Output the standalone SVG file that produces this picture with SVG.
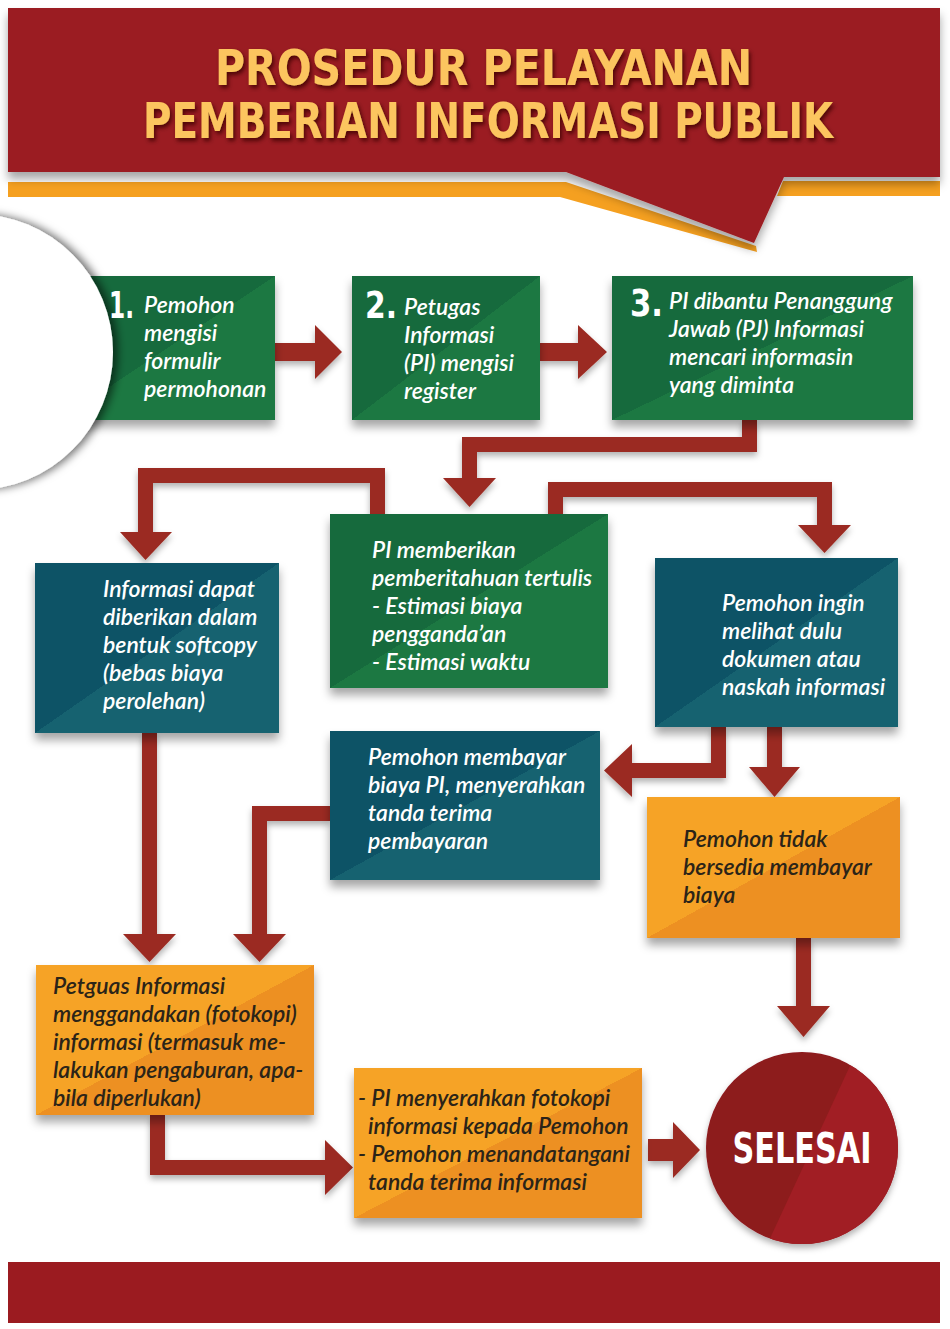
<svg xmlns="http://www.w3.org/2000/svg" width="950" height="1329" viewBox="0 0 950 1329">
<defs>
  <style>
    .body { font-family: Lato, "Open Sans", "Liberation Sans", sans-serif; font-style: italic; font-weight: 600; font-size: 23px; }
    .w { fill: #ffffff; }
    .d { fill: #2b2418; }
    .num { font-family: "DejaVu Sans Condensed", "Liberation Sans", sans-serif; font-weight: bold; font-size: 38px; fill: #ffffff; }
    .title { font-family: "DejaVu Sans Condensed", "Liberation Sans", sans-serif; font-weight: bold; font-size: 50px; fill: #fcc55e; }
    .arrow { fill: #9b2b22; }
  </style>
  <linearGradient id="gGreen" x1="0" y1="0" x2="1" y2="1">
    <stop offset="0.5" stop-color="#196a3c"/>
    <stop offset="0.5" stop-color="#1d7843"/>
  </linearGradient>
  <linearGradient id="gTeal" x1="0" y1="0" x2="1" y2="1">
    <stop offset="0.5" stop-color="#0d5266"/>
    <stop offset="0.5" stop-color="#13626f"/>
  </linearGradient>
  <linearGradient id="gOrange" x1="0" y1="0" x2="1" y2="1">
    <stop offset="0.5" stop-color="#f6a325"/>
    <stop offset="0.5" stop-color="#ed9024"/>
  </linearGradient>
  <filter id="sh" x="-20%" y="-20%" width="140%" height="150%">
    <feDropShadow dx="0" dy="7" stdDeviation="5" flood-color="#000" flood-opacity="0.35"/>
  </filter>
  <filter id="shA" x="-20%" y="-20%" width="140%" height="150%">
    <feDropShadow dx="0" dy="4" stdDeviation="3" flood-color="#000" flood-opacity="0.3"/>
  </filter>
  <filter id="shC" x="-30%" y="-30%" width="160%" height="160%">
    <feDropShadow dx="5" dy="0" stdDeviation="4" flood-color="#000" flood-opacity="0.55"/>
  </filter>
  <filter id="shT" x="-5%" y="-20%" width="110%" height="150%">
    <feDropShadow dx="2" dy="3" stdDeviation="2" flood-color="#3a0606" flood-opacity="0.8"/>
  </filter>
  <clipPath id="cEnd"><circle cx="802" cy="1148" r="96"/></clipPath>
</defs>

<rect x="0" y="0" width="950" height="1329" fill="#ffffff"/>

<g id="header">
  <path d="M8,182 H566 L756,246 L757,252 L560,197 H8 Z" fill="#f5a020"/>
  <path d="M783,181 H940 V196 H777 Z" fill="#f5a020"/>
  <path d="M8,8 H940 V177 H784 L754,243 L566,172 H8 Z" fill="#9b1b20" filter="url(#sh)"/>
  <g filter="url(#shT)">
    <text class="title" x="215" y="85" textLength="537" lengthAdjust="spacingAndGlyphs">PROSEDUR PELAYANAN</text>
    <text class="title" x="143" y="138" textLength="690" lengthAdjust="spacingAndGlyphs">PEMBERIAN INFORMASI PUBLIK</text>
  </g>
</g>

<g id="connectors">
  <g class="arrow" filter="url(#shA)">
    <polygon points="275,343 315,343 315,325 342,352 315,379 315,361 275,361"/>
    <polygon points="540,343 578,343 578,325 607,352 578,379 578,361 540,361"/>
    <polygon points="742,420 757,420 757,452 477,452 477,478 496,478 469.5,507 443,478 462,478 462,437 742,437"/>
    <polygon points="385,514 385,468 138,468 138,532 120,532 145.5,560 172,532 153,532 153,483 370,483 370,514"/>
    <polygon points="548,514 548,482 832,482 832,525 851,525 824.5,553 798,525 817,525 817,497 563,497 563,514"/>
    <polygon points="711,727 726,727 726,778 632,778 632,797 604,770.5 632,744 632,763 711,763"/>
    <polygon points="767,727 782,727 782,767 800,767 774.5,797 749,767 767,767"/>
    <polygon points="796,938 811,938 811,1006 830,1006 803.5,1037 777,1006 796,1006"/>
    <polygon points="142,733 157,733 157,934 176,934 149.5,962 123,934 142,934"/>
    <polygon points="330,806 330,821 267,821 267,934 286,934 259.5,962 233,934 252,934 252,806"/>
    <polygon points="150,1115 165,1115 165,1160 325,1160 325,1140 353,1167.5 325,1195 325,1175 150,1175"/>
    <polygon points="648,1139 673,1139 673,1122 700,1150 673,1178 673,1161 648,1161"/>
  </g>
</g>

<g id="step1">
  <rect x="60" y="276" width="215" height="144" fill="url(#gGreen)" filter="url(#sh)"/>
</g>
<g id="start-arc">
  <circle cx="-25" cy="352" r="138" fill="#ffffff" filter="url(#shC)"/>
</g>
<g id="step1-text">
  <text class="num" x="109" y="318" textLength="25" lengthAdjust="spacingAndGlyphs">1.</text>
  <text class="body w" x="144" y="313">Pemohon</text>
  <text class="body w" x="144" y="341">mengisi</text>
  <text class="body w" x="144" y="369">formulir</text>
  <text class="body w" x="144" y="397">permohonan</text>
</g>

<g id="step2">
  <rect x="352" y="276" width="188" height="144" fill="url(#gGreen)" filter="url(#sh)"/>
  <text class="num" x="365" y="318" textLength="32" lengthAdjust="spacingAndGlyphs">2.</text>
  <text class="body w" x="404" y="315">Petugas</text>
  <text class="body w" x="404" y="343">Informasi</text>
  <text class="body w" x="404" y="371">(PI) mengisi</text>
  <text class="body w" x="404" y="399">register</text>
</g>

<g id="step3">
  <rect x="612" y="276" width="301" height="144" fill="url(#gGreen)" filter="url(#sh)"/>
  <text class="num" x="630" y="316" textLength="33" lengthAdjust="spacingAndGlyphs">3.</text>
  <text class="body w" x="669" y="309">PI dibantu Penanggung</text>
  <text class="body w" x="669" y="337">Jawab (PJ) Informasi</text>
  <text class="body w" x="669" y="365">mencari informasin</text>
  <text class="body w" x="669" y="393">yang diminta</text>
</g>

<g id="pemberitahuan">
  <rect x="330" y="514" width="278" height="174" fill="url(#gGreen)" filter="url(#sh)"/>
  <text class="body w" x="372" y="558">PI memberikan</text>
  <text class="body w" x="372" y="586">pemberitahuan tertulis</text>
  <text class="body w" x="372" y="614">- Estimasi biaya</text>
  <text class="body w" x="372" y="642">pengganda’an</text>
  <text class="body w" x="372" y="670">- Estimasi waktu</text>
</g>

<g id="softcopy">
  <rect x="35" y="563" width="244" height="170" fill="url(#gTeal)" filter="url(#sh)"/>
  <text class="body w" x="103" y="597">Informasi dapat</text>
  <text class="body w" x="103" y="625">diberikan dalam</text>
  <text class="body w" x="103" y="653">bentuk softcopy</text>
  <text class="body w" x="103" y="681">(bebas biaya</text>
  <text class="body w" x="103" y="709">perolehan)</text>
</g>

<g id="melihat">
  <rect x="655" y="558" width="243" height="169" fill="url(#gTeal)" filter="url(#sh)"/>
  <text class="body w" x="722" y="611">Pemohon ingin</text>
  <text class="body w" x="722" y="639">melihat dulu</text>
  <text class="body w" x="722" y="667">dokumen atau</text>
  <text class="body w" x="722" y="695">naskah informasi</text>
</g>

<g id="membayar">
  <rect x="330" y="731" width="270" height="149" fill="url(#gTeal)" filter="url(#sh)"/>
  <text class="body w" x="368" y="765">Pemohon membayar</text>
  <text class="body w" x="368" y="793">biaya PI, menyerahkan</text>
  <text class="body w" x="368" y="821">tanda terima</text>
  <text class="body w" x="368" y="849">pembayaran</text>
</g>

<g id="tidak-bersedia">
  <rect x="647" y="797" width="253" height="141" fill="url(#gOrange)" filter="url(#sh)"/>
  <text class="body d" x="683" y="847">Pemohon tidak</text>
  <text class="body d" x="683" y="875">bersedia membayar</text>
  <text class="body d" x="683" y="903">biaya</text>
</g>

<g id="menggandakan">
  <rect x="36" y="965" width="278" height="150" fill="url(#gOrange)" filter="url(#sh)"/>
  <text class="body d" x="53" y="994">Petguas Informasi</text>
  <text class="body d" x="53" y="1022">menggandakan (fotokopi)</text>
  <text class="body d" x="53" y="1050">informasi (termasuk me-</text>
  <text class="body d" x="53" y="1078">lakukan pengaburan, apa-</text>
  <text class="body d" x="53" y="1106">bila diperlukan)</text>
</g>

<g id="menyerahkan">
  <rect x="354" y="1068" width="288" height="150" fill="url(#gOrange)" filter="url(#sh)"/>
  <text class="body d" x="358" y="1106">- PI menyerahkan fotokopi</text>
  <text class="body d" x="368" y="1134">informasi kepada Pemohon</text>
  <text class="body d" x="358" y="1162">- Pemohon menandatangani</text>
  <text class="body d" x="368" y="1190">tanda terima informasi</text>
</g>

<g id="selesai">
  <circle cx="802" cy="1148" r="96" fill="#8d1a1f" filter="url(#shA)"/>
  <polygon points="862,1040 930,1040 930,1260 760,1260" fill="#a11e24" clip-path="url(#cEnd)"/>
  <text x="802" y="1163" text-anchor="middle" textLength="139" lengthAdjust="spacingAndGlyphs" style="font-family:'DejaVu Sans Condensed','Liberation Sans',sans-serif;font-weight:bold;font-size:42px;fill:#ffffff">SELESAI</text>
</g>

<g id="footer">
  <rect x="8" y="1262" width="932" height="61" fill="#9b1b20"/>
</g>
</svg>
